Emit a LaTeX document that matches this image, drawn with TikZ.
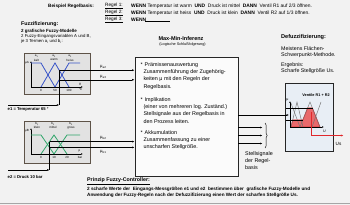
\documentclass[tikz,border=0pt]{standalone}
\usepackage{fontspec}
\setmainfont{Liberation Sans}
\newfontfamily\dejavu{DejaVu Sans}
\usetikzlibrary{arrows.meta,decorations.pathreplacing}
\newcommand\fsz[1]{\fontsize{#1}{#1}\selectfont}
\definecolor{bgc}{HTML}{F2F2F2}
\definecolor{fzfill}{HTML}{E2E2E2}
\definecolor{fzdraw}{HTML}{5E5348}
\definecolor{mfblue}{HTML}{3A55C8}
\definecolor{mfgreen}{HTML}{2FA56A}
\definecolor{dfill}{HTML}{E8EEF5}
\definecolor{outred}{HTML}{E0282C}
\begin{document}
\begin{tikzpicture}[x=1pt,y=-1pt,
  txt/.style={inner sep=0pt,anchor=west,font=\fsz{4.9}},
  btxt/.style={inner sep=0pt,anchor=west,font=\fsz{4.8}\bfseries},
  head/.style={inner sep=0pt,anchor=west,font=\fsz{5.3}\bfseries},
  itxt/.style={inner sep=0pt,anchor=west,font=\fsz{5.4}},
  dtxt/.style={inner sep=0pt,anchor=west,font=\fsz{5.3}},
  lbl/.style={inner sep=0pt,font=\fsz{3}},
  mulbl/.style={inner sep=0pt,anchor=west,font=\fsz{4.2}},
  arr/.style={-{Latex[length=2.4pt,width=1.9pt]},line width=0.45pt},
  ln/.style={line width=0.45pt},
  axis/.style={-{Latex[length=2pt,width=1.6pt]},line width=0.4pt},
  fzbox/.style={draw=fzdraw,fill=fzfill,line width=0.9pt,inner sep=0pt,minimum width=66pt},
  mfa/.style={mfblue,line width=0.8pt},
  mfb/.style={mfgreen,line width=0.8pt},
  gr/.style={black!55,line width=0.45pt}
]
\useasboundingbox (0,0) rectangle (350,205);
\fill[bgc] (0,0) rectangle (350,205);
\draw[black!35,line width=0.8pt] (0,203.6) -- (350,203.6);

% ---- rule base
\node[btxt,font=\fsz{4.7}\bfseries] (bsp) at (48,6) {Beispiel Regelbasis:};
\node[txt,font=\fsz{4.7}] (r1) at (105,6) {\underline{Regel 1:}};
\node[txt,font=\fsz{4.7}] (r2) at (105,13) {\underline{Regel 2:}};
\node[txt,font=\fsz{4.7}] (r3) at (105,20) {\underline{Regel 3:}};
\node[txt] (r1t) at (131,6) {\textbf{WENN} Temperatur ist warm ~\textbf{UND} ~Druck ist mittel ~\textbf{DANN} ~Ventil R1 auf 2/3 öffnen.};
\node[txt] (r2t) at (131,13) {\textbf{WENN} Temperatur ist heiss ~\textbf{UND} ~Druck ist klein ~\textbf{DANN} ~Ventil R2 auf 1/3 öffnen.};
\node[txt] (r3t) at (131,20) {\textbf{WENN}};
\coordinate (r3a) at (145,21.6);
\coordinate (r3b) at (170,21.6);
\draw[line width=0.6pt] (r3a) -- (r3b);

% ---- Fuzzifizierung text
\node[head] (fz) at (21,24) {Fuzzifizierung:};
\node[btxt,font=\fsz{4.5}\bfseries] (fz1) at (21,31.5) {2 grafische Fuzzy-Modelle};
\node[txt,font=\fsz{4.3}] (fz2) at (21,36.5) {2 Fuzzy-Eingangsvariablen A und B,};
\node[txt,font=\fsz{4.3}] (fz3) at (21,41.5) {je 3 Termen a\textsubscript{i} und b\textsubscript{i}:};

% ---- boxes
\node[fzbox,minimum height=41pt] (boxA) at (57,73.5) {};
\node[fzbox,minimum height=42pt] (boxB) at (57,142) {};
\node[draw=black!85,fill=white!70!bgc,line width=0.9pt,inner sep=0pt,minimum width=103pt,minimum height=119pt] (inf) at (186.5,116.5) {};
\node[draw=black!85,fill=dfill,line width=0.9pt,inner sep=0pt,minimum width=48pt,minimum height=67.5pt] (dbox) at (309,117.25) {};

% ---- plot A (temperature)
\draw[axis] (31,87) -- (31,61);
\draw[axis] (31,87) -- (83,87);
\draw[mfa] (31,63) -- (41,63) -- (55,87);
\draw[mfa] (41,87) -- (55,63) -- (69,87);
\draw[mfa] (55,87) -- (69,63) -- (80,63);
\node[lbl] (a1) at (36.5,56.5) {a\textsubscript{1}};
\node[lbl] (a1n) at (36.5,60) {kalt};
\node[lbl] (a2) at (54,56) {a\textsubscript{2}};
\node[lbl] (a2n) at (54,59.5) {warm};
\node[lbl] (a3) at (70,56.5) {a\textsubscript{3}};
\node[lbl] (a3n) at (70,60) {heiss};
\node[lbl] (muA) at (27,63) {μA};
\node[lbl] (t0) at (41,90.5) {0};
\node[lbl] (t50) at (55,90.5) {50};
\node[lbl] (t100) at (69,90.5) {100};
\node[lbl] (th) at (80,84.3) {{\dejavu ϑ}};
\node[lbl] (thu) at (80.5,89.8) {°C};

\coordinate (ea2) at (59.2,70.2);
\coordinate (ea3) at (59.2,79.8);
\coordinate (e1c) at (59.2,105);
\coordinate (e1s) at (8,105);
\draw[ln] (e1c) -- (ea2);
\draw[arr] (e1s) -- (e1c);
\node[btxt,font=\fsz{4.2}\bfseries] (e1) at (7.5,109.5) {e1 = Temperatur 65 °};
\draw[arr] (ea2) -- (ea2 -| inf.west);
\draw[arr] (ea3) -- (ea3 -| inf.west);
\node[mulbl] (lmua2) at (100,66.5) {μ\textsubscript{a2}};
\node[mulbl] (lmua3) at (100,76.5) {μ\textsubscript{a3}};

% ---- plot B (pressure)
\draw[axis] (31,154) -- (31,128);
\draw[axis] (31,154) -- (83,154);
\draw[mfb] (31,135) -- (41,135) -- (54,154);
\draw[mfb] (41,154) -- (54,135) -- (67,154);
\draw[mfb] (54,154) -- (67,135) -- (80,135);
\node[lbl] (b1) at (37,124.3) {b\textsubscript{1}};
\node[lbl] (b1n) at (37,127.8) {klein};
\node[lbl] (b2) at (53,123.8) {b\textsubscript{2}};
\node[lbl] (b2n) at (53,127.3) {mittel};
\node[lbl] (b3) at (71,124.3) {b\textsubscript{3}};
\node[lbl] (b3n) at (71,127.8) {gross};
\node[lbl] (muB) at (27,131) {μB};
\node[lbl] (s0) at (41,157.5) {0};
\node[lbl] (s10) at (54,157.5) {10};
\node[lbl] (s20) at (67,157.5) {20};
\node[lbl] (pp) at (79.5,151.5) {p};
\node[lbl] (pu) at (80,157) {bar};

\coordinate (eb2) at (49.5,141.6);
\coordinate (eb1) at (49.5,147.4);
\coordinate (e2c) at (49.5,170);
\coordinate (e2s) at (8,170);
\draw[ln] (e2c) -- (eb2);
\draw[arr] (e2s) -- (e2c);
\node[btxt,font=\fsz{4.2}\bfseries] (e2) at (7.5,176.5) {e2 = Druck 10 bar};
\draw[arr] (eb2) -- (eb2 -| inf.west);
\draw[arr] (eb1) -- (eb1 -| inf.west);
\node[mulbl] (lmub2) at (100,138) {μ\textsubscript{b2}};
\node[mulbl] (lmub1) at (100,151.5) {μ\textsubscript{b1}};

% ---- inference
\node[inner sep=0pt,font=\fsz{5.5}\bfseries] (inft) at (181,38.5) {Max-Min-Inferenz};
\node[inner sep=0pt,font=\fsz{3.8}] (infs) at (182.5,45) {(Logische Schlußfolgerung)};
\node[itxt] (s1) at (140.3,65) {*};
\node[itxt] (p1) at (144.5,65) {Prämissenauswertung};
\node[itxt] (p2) at (143.3,72.3) {Zusammenführung der Zugehörig-};
\node[itxt] (p3) at (143.3,79.6) {keiten μ mit den Regeln der};
\node[itxt] (p4) at (143.3,86.9) {Regelbasis.};
\node[itxt] (s2) at (140.3,100) {*};
\node[itxt] (q1) at (144.5,100) {Implikation};
\node[itxt] (q2) at (143.3,107.2) {(einer von mehreren log. Zuständ.)};
\node[itxt] (q3) at (143.3,114.4) {Stellsignale aus der Regelbasis in};
\node[itxt] (q4) at (143.3,121.6) {den Prozess leiten.};
\node[itxt] (s3) at (140.3,133) {*};
\node[itxt] (k1) at (144.5,133) {Akkumulation};
\node[itxt] (k2) at (143.3,140.4) {Zusammenfassung zu einer};
\node[itxt] (k3) at (143.3,147.6) {unscharfen Stellgröße.};

% ---- outputs of inference
\coordinate (o0) at (inf.east |- 0,115);
\coordinate (d0) at (289,115);
\draw[arr] (o0) -- (d0);
\foreach \yy/\nm in {127.5/o1,135.5/o2,143.5/o3}{
  \coordinate (\nm) at (inf.east |- 0,\yy);
  \draw[arr] (\nm) -- ++(24,0);
}
\draw[ln,decorate,decoration={brace,amplitude=2.2pt}] (265,123) -- (265,148);
\node[dtxt,font=\fsz{5.4}] (sg1) at (245,154) {Stellsignale};
\node[dtxt,font=\fsz{5.4}] (sg2) at (245,161) {der Regel-};
\node[dtxt,font=\fsz{5.4}] (sg3) at (245,168) {basis};

% ---- Defuzzifizierung text
\node[head,font=\fsz{5.6}\bfseries] (df) at (281,37) {Defuzzifizierung:};
\node[dtxt] (df1) at (281,49) {Meistens Flächen-};
\node[dtxt] (df2) at (281,55.5) {Schwerpunkt-Methode.};
\node[dtxt] (df3) at (281,65) {Ergebnis:};
\node[dtxt] (df4) at (281,71.5) {Scharfe Stellgröße Us.};

% ---- defuzz plot
\node[inner sep=0pt,font=\fsz{3.8}\bfseries] (vt) at (316,95) {Ventile R1 + R2};
\fill[outred!70!white,draw=outred,line width=0.6pt] (291,127) -- (292.7,120) -- (302.8,120) -- (307.6,108) -- (312.4,108) -- (320,127) -- cycle;
\draw[gr] (290.5,102) -- (300,127);
\draw[gr] (291,127) -- (297,102) -- (303,127);
\draw[gr] (300,127) -- (310,102) -- (320,127);
\draw[gr] (312,127) -- (321,102);
\draw[ln] (286,108) -- (313,108);
\draw[ln] (286,120) -- (303,120);
\draw[axis] (290,127) -- (290,101);
\draw[axis] (290,127) -- (324,127);
\node[lbl,font=\fsz{3.6}] (mud) at (287.3,100) {μ};
\node[lbl,font=\fsz{3.6}] (ud) at (324.5,131.5) {U};
\coordinate (cg) at (311,112);
\coordinate (cgb) at (311,135.5);
\coordinate (us) at (343.5,135.5);
\draw[outred,line width=0.6pt,-{Latex[length=2.6pt,width=2.1pt]}] (cg) -- (cgb) -- (us);
\node[inner sep=0pt,font=\fsz{4.6}] (usl) at (338.5,143.5) {Us};

% ---- bottom text
\node[head,font=\fsz{5.3}\bfseries] (pr) at (87,181) {\underline{Prinzip Fuzzy-Controller:}};
\node[btxt,font=\fsz{4.65}\bfseries] (pr1) at (87,189) {2 scharfe Werte der ~Eingangs-Messgrößen e1 und e2 ~bestimmen über ~grafische Fuzzy-Modelle und};
\node[btxt,font=\fsz{4.65}\bfseries] (pr2) at (87,195.5) {Anwendung der Fuzzy-Regeln nach der Defuzzifizierung einen Wert der scharfen Stellgröße Us.};
\end{tikzpicture}
\end{document}
